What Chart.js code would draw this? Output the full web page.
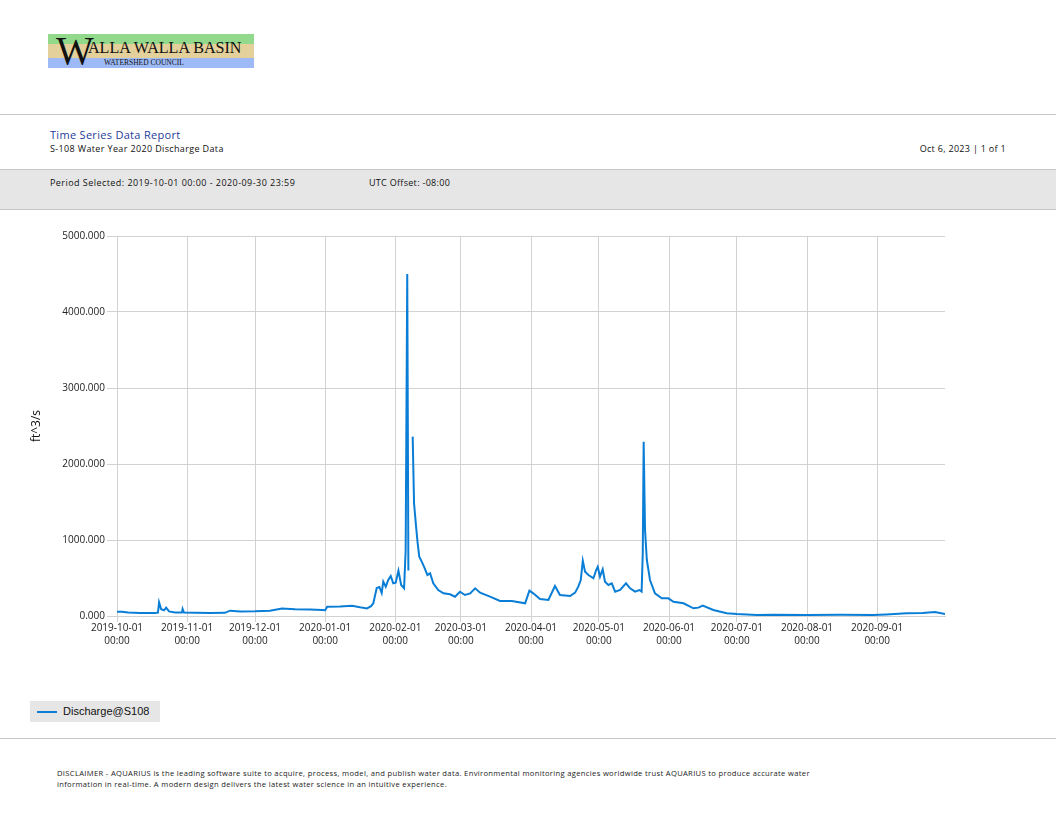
<!DOCTYPE html>
<html>
<head>
<meta charset="utf-8">
<title>S-108 Water Year 2020 Discharge Data</title>
<script src="https://cdn.jsdelivr.net/npm/chart.js@4.4.1/dist/chart.umd.min.js"></script>
<style>
  html, body { margin: 0; padding: 0; background: #fff; }
  body { width: 1056px; height: 816px; position: relative; overflow: hidden; font-family: "Open Sans", "DejaVu Sans", sans-serif; color: #222; }
  .abs { position: absolute; }
  .logo { left: 48px; top: 34px; width: 206px; height: 34px; }
  .band { position: absolute; left: 0; width: 206px; }
  .logo .big { position: absolute; left: 8px; top: -3px; font-family: "Liberation Serif", serif; font-size: 40px; line-height: 40px; color: #111; }
  .logo .name { position: absolute; left: 40px; top: 4px; font-family: "Liberation Serif", serif; font-size: 16.1px; line-height: 20px; color: #111; white-space: nowrap; }
  .logo .sub { position: absolute; left: 56px; top: 24px; font-family: "Liberation Serif", serif; font-size: 7.5px; line-height: 9px; color: #111; white-space: nowrap; }
  .hline { left: 0; width: 1056px; height: 1px; background: #c6c6c6; }
  .t1 { left: 50px; top: 127px; font-size: 11px; letter-spacing: 0.3px; color: #1f3c9a; }
  .t2 { left: 50px; top: 142px; font-size: 9px; letter-spacing: 0.36px; color: #111; }
  .t3 { right: 50px; top: 142px; font-size: 9px; letter-spacing: 0.3px; color: #111; }
  .grayband { left: 0; top: 169px; width: 1056px; height: 41px; background: #e6e6e6; border-top: 1px solid #c6c6c6; border-bottom: 1px solid #c6c6c6; box-sizing: border-box; }
  .p1 { left: 50px; top: 176px; font-size: 9px; letter-spacing: 0.45px; color: #111; }
  .p2 { left: 369px; top: 176px; font-size: 9px; letter-spacing: 0.3px; color: #111; }
  #wrap { left: 0; top: 220px; width: 960px; height: 440px; }
  .legend { left: 30px; top: 701px; width: 130px; height: 21px; background: #e6e6e6; }
  .legend .sw { position: absolute; left: 7px; top: 10px; width: 20px; height: 2px; background: #0a7ed6; }
  .legend .lb { position: absolute; left: 33px; top: 3px; font-family: "Liberation Sans", Arial, sans-serif; font-size: 11px; line-height: 14px; color: #111; }
  .disc { left: 57px; top: 768px; font-size: 7.6px; letter-spacing: 0.33px; line-height: 11px; color: #222; width: 980px; white-space: nowrap; }
</style>
</head>
<body>

<div class="abs logo">
  <div class="band" style="top:0;height:10px;background:#92d98b;"></div>
  <div class="band" style="top:10px;height:14px;background:#e3d09a;"></div>
  <div class="band" style="top:24px;height:10px;background:#9dbaf7;"></div>
  <div class="big">W</div>
  <div class="name">ALLA WALLA BASIN</div>
  <div class="sub">WATERSHED COUNCIL</div>
</div>

<div class="abs hline" style="top:114px;"></div>
<div class="abs t1">Time Series Data Report</div>
<div class="abs t2">S-108 Water Year 2020 Discharge Data</div>
<div class="abs t3">Oct 6, 2023 | 1 of 1</div>

<div class="abs grayband"></div>
<div class="abs p1">Period Selected: 2019-10-01 00:00 - 2020-09-30 23:59</div>
<div class="abs p2">UTC Offset: -08:00</div>

<div class="abs" id="wrap"><canvas id="chart"></canvas></div>

<div class="abs legend"><div class="sw"></div><div class="lb" id="legendLabel"></div></div>

<div class="abs hline" style="top:738px;"></div>
<div class="abs disc">DISCLAIMER - AQUARIUS is the leading software suite to acquire, process, model, and publish water data. Environmental monitoring agencies worldwide trust AQUARIUS to produce accurate water<br>information in real-time. A modern design delivers the latest water science in an intuitive experience.</div>

<script>
// series name and units
const seriesName = 'Discharge@S108';
const unitLabel = 'ft^3/s';

// x = days since 2019-10-01 00:00 (water year 2020, leap year -> 366 days)
const dayOffset = [
  0, 2.2, 4.9, 10.2, 16.8, 18.1, 18.6, 19.5, 20.8, 21.7, 23, 25.6, 28.7, 29, 29.6,
  34.5, 41.1, 47.7, 50, 54.4, 61, 67.6, 72.9, 78.7, 85.3, 90.6, 92, 92.9, 98.6,
  103.9, 107.4, 110.5, 112.3, 113.3, 114.8, 116, 117, 117.7, 118.8, 119.9, 121,
  122.1, 123.2, 124.4, 125.6, 126.9, 127.6, 128.3, 128.8, 129.5,
  130.7, 131.3, 132.2, 132.9, 133.6, 134.7, 135.7, 137.2, 138.4, 139.8, 142,
  144.3, 147.2, 149.4, 151.6, 153.8, 156.1, 158.3, 160.5, 164.9, 169.3, 174.5,
  180.4, 182.3, 184, 187, 190.7, 193.6, 195.8, 200.3, 202.5, 203.9, 205, 205.9,
  206.9, 208.4, 210.6, 211.8, 212.5, 213.5, 214.7, 215.7, 217.2, 218.7, 220.2,
  222.4, 225, 226.8, 229, 230.9, 231.9, 232.4, 232.8, 233.4, 234.2, 235.6, 237.8,
  240.8, 243.7, 246, 250.4, 254.8, 257, 258.9, 263.6, 269.5, 274, 282.8, 290,
  304.9, 320, 334.2, 340, 349.1, 356, 361.6, 366
];

// discharge in ft^3/s (null = missing record)
const discharge = [
  57, 55, 45, 40, 38, 45, 180, 90, 75, 110, 60, 45, 45, 92, 45,
  43, 40, 42, 70, 60, 62, 70, 100, 88, 85, 78, 75, 122, 125,
  135, 115, 100, 130, 167, 368, 382, 302, 452, 386, 474, 526,
  430, 439, 597, 408, 364, 868, 4500, 600, null,
  2360, 1483, 1175, 957, 780, 715, 649, 540, 562, 430, 342,
  298, 285, 254, 320, 276, 298, 364, 307, 254, 197, 197,
  167, 333, 298, 224, 210, 395, 276, 263, 307, 386, 474, 728,
  583, 540, 496, 605, 649, 517, 614, 452, 408, 430, 320,
  342, 430, 364, 320, 342, 320, 825, 2294, 1132, 737, 474, 298,
  233, 233, 188, 167, 101, 110, 136, 79, 36, 26, 13, 18,
  13, 15, 13, 20, 36, 40, 53, 26
];

// month tick positions (days since 2019-10-01) and their labels
const monthTicks = [0, 31, 61, 92, 123, 152, 183, 213, 244, 274, 305, 336];
const monthLabels = [
  '2019-10-01', '2019-11-01', '2019-12-01', '2020-01-01', '2020-02-01', '2020-03-01',
  '2020-04-01', '2020-05-01', '2020-06-01', '2020-07-01', '2020-08-01', '2020-09-01'
];
const yTicks = [0, 1000, 2000, 3000, 4000, 5000];

const lineColor = '#0a7ed6';
const gridColor = '#d2d2d2';
const tickFont = { family: '"Open Sans", "DejaVu Sans", sans-serif', size: 10, lineHeight: 1.3 };

document.getElementById('legendLabel').textContent = seriesName;

const points = dayOffset.map((d, i) => ({ x: d, y: discharge[i] }));

const ctx = document.getElementById('chart').getContext('2d');
const chart = new Chart(ctx, {
  type: 'line',
  data: {
    datasets: [{
      label: seriesName,
      data: points,
      borderColor: lineColor,
      backgroundColor: lineColor,
      borderWidth: 2,
      pointRadius: 0,
      tension: 0,
      spanGaps: false
    }]
  },
  options: {
    responsive: true,
    maintainAspectRatio: false,
    animation: false,
    layout: { padding: { left: 0, right: 15, top: 16, bottom: 0 } },
    plugins: {
      legend: { display: false },
      tooltip: { enabled: false }
    },
    scales: {
      x: {
        type: 'linear',
        min: 0,
        max: 366,
        afterBuildTicks: (axis) => { axis.ticks = monthTicks.map(v => ({ value: v })); },
        afterFit: (axis) => { axis.height = 44; },
        ticks: {
          autoSkip: false,
          maxRotation: 0,
          padding: 0,
          color: '#222',
          font: tickFont,
          callback: (v) => {
            const i = monthTicks.indexOf(v);
            return i < 0 ? '' : [monthLabels[i], '00:00'];
          }
        },
        grid: { color: gridColor, tickLength: 6, drawOnChartArea: true },
        border: { display: true, color: gridColor }
      },
      y: {
        min: 0,
        max: 5000,
        afterBuildTicks: (axis) => { axis.ticks = yTicks.map(v => ({ value: v })); },
        afterFit: (axis) => { axis.width = 117; },
        ticks: {
          padding: 2,
          color: '#222',
          font: tickFont,
          callback: (v) => v.toFixed(3)
        },
        grid: { color: gridColor, tickLength: 10 },
        border: { display: false },
        title: {
          display: true,
          text: unitLabel,
          color: '#111',
          font: { family: '"Open Sans", "DejaVu Sans", sans-serif', size: 12 },
          padding: { top: 29, bottom: 0 }
        }
      }
    }
  }
});
</script>
</body>
</html>
